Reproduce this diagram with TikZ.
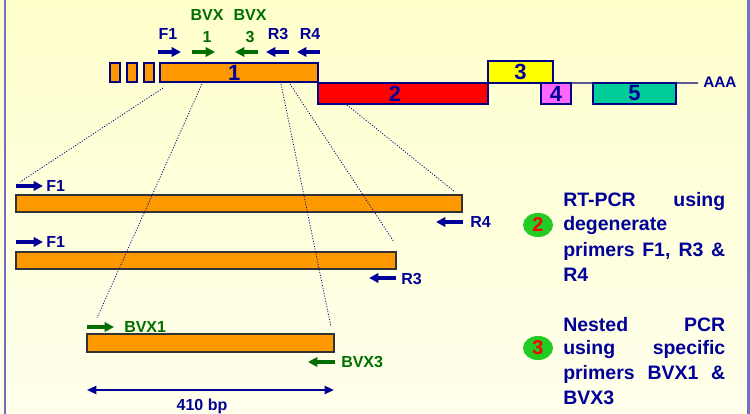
\documentclass[tikz,border=0pt]{standalone}
\usepackage{fontspec}
\setmainfont{Liberation Sans}
\usetikzlibrary{arrows.meta,shapes.geometric}
\definecolor{navy}{HTML}{000099}
\definecolor{dkgreen}{HTML}{006E00}
\definecolor{orng}{HTML}{FF9900}
\definecolor{gred}{HTML}{FF0000}
\definecolor{gyel}{HTML}{FFFF00}
\definecolor{gmag}{HTML}{FF66FF}
\definecolor{gteal}{HTML}{00CC99}
\definecolor{bord}{HTML}{000080}
\definecolor{barbord}{HTML}{333333}
\definecolor{frame}{HTML}{7070C0}
\definecolor{bgtop}{HTML}{FFFFCC}
\definecolor{bgbot}{HTML}{FFFFEC}
\definecolor{circgreen}{HTML}{22CC22}
\begin{document}
\begin{tikzpicture}[x=0.75pt,y=-0.75pt,
  gbox/.style={draw=bord, line width=0.8pt, inner sep=0pt, outer sep=0pt,
    font=\fontsize{16.5}{18}\selectfont\bfseries, text=navy},
  bar/.style={draw=barbord, line width=0.8pt, fill=orng, inner sep=0pt, outer sep=0pt},
  lbl/.style={font=\fontsize{12}{16.5}\selectfont\bfseries, text=navy, inner sep=0pt, align=center},
  glbl/.style={lbl, text=dkgreen},
  primer/.style={line width=2.3pt, -{Triangle[length=7pt,width=7pt]}},
  bprimer/.style={primer, draw=navy},
  gprimer/.style={primer, draw=dkgreen},
  dotl/.style={draw=navy, line width=0.6pt, dash pattern=on 0.8pt off 1.2pt},
  rtext/.style={font=\fontsize{14.6}{16}\selectfont\bfseries, text=navy, inner sep=0pt, anchor=west},
  circ/.style={ellipse, fill=circgreen, minimum width=22.5pt, minimum height=18pt, inner sep=0pt,
    font=\fontsize{15}{16}\selectfont\bfseries, text=gred}
]
% background
\shade[top color=bgtop, bottom color=bgbot] (0,0) rectangle (750,414);
\useasboundingbox (0,0) rectangle (750,414);
\draw[frame, line width=1.2pt] (5,0) -- (5,414);
\draw[frame, line width=1.8pt] (748.5,0) -- (748.5,414);

% baseline
\coordinate (bl1) at (318,83);
\coordinate (bl2) at (698,83);
\draw[draw=frame!80!black, line width=0.8pt] (bl1) -- (bl2);
\node[lbl, anchor=west, font=\fontsize{11.5}{12}\selectfont\bfseries] (aaa) at (703,82) {AAA};

% gene boxes
\node[gbox, fill=orng, minimum width=7.5pt, minimum height=14.25pt] (s1) at (115,72.5) {};
\node[gbox, fill=orng, minimum width=7.5pt, minimum height=14.25pt] (s2) at (132,72.5) {};
\node[gbox, fill=orng, minimum width=7.5pt, minimum height=14.25pt] (s3) at (149,72.5) {};
\node[gbox, fill=orng, minimum width=118.5pt, minimum height=14.25pt] (b1) at (239,72.5) {\hspace*{-7pt}1};
\node[gbox, fill=gred, minimum width=127.5pt, minimum height=15.75pt] (b2) at (403,93.5) {\hspace*{-12pt}2};
\node[gbox, fill=gyel, minimum width=48.75pt, minimum height=16.5pt] (b3) at (520.5,72) {3};
\node[gbox, fill=gmag, minimum width=22.5pt, minimum height=15.75pt] (b4) at (556,93.5) {4};
\node[gbox, fill=gteal, minimum width=62.25pt, minimum height=15.75pt] (b5) at (634.5,93.5) {5};

% top primers
\coordinate (tf1a) at (158,52); \coordinate (tf1b) at (181,52);
\coordinate (tb1a) at (192,52); \coordinate (tb1b) at (215,52);
\coordinate (tb3a) at (258,52); \coordinate (tb3b) at (235,52);
\coordinate (tr3a) at (289,52); \coordinate (tr3b) at (266,52);
\coordinate (tr4a) at (320,52); \coordinate (tr4b) at (297,52);
\draw[bprimer] (tf1a) -- (tf1b);
\draw[gprimer] (tb1a) -- (tb1b);
\draw[gprimer] (tb3a) -- (tb3b);
\draw[bprimer] (tr3a) -- (tr3b);
\draw[bprimer] (tr4a) -- (tr4b);
\node[lbl] (ltf1) at (168,34) {F1};
\node[glbl] (ltb1) at (207,26) {BVX\\1};
\node[glbl] (ltb3) at (250,26) {BVX\\3};
\node[lbl] (ltr3) at (278,34) {R3};
\node[lbl] (ltr4) at (310,34) {R4};

% product bars
\node[bar, minimum width=334.5pt, minimum height=12.75pt] (pa) at (239,203.5) {};
\node[bar, minimum width=285pt, minimum height=12.75pt] (pb) at (206,260.5) {};
\node[bar, minimum width=185.25pt, minimum height=13.5pt] (pc) at (210.5,343) {};

% lower primers
\coordinate (af1a) at (16,186); \coordinate (af1b) at (43,186);
\coordinate (ar4a) at (463,222); \coordinate (ar4b) at (436,222);
\coordinate (bf1a) at (16,242); \coordinate (bf1b) at (43,242);
\coordinate (br3a) at (396,278); \coordinate (br3b) at (369,278);
\coordinate (cb1a) at (87,327); \coordinate (cb1b) at (114,327);
\coordinate (cb3a) at (335,362); \coordinate (cb3b) at (308,362);
\draw[bprimer] (af1a) -- (af1b);
\draw[bprimer] (ar4a) -- (ar4b);
\draw[bprimer] (bf1a) -- (bf1b);
\draw[bprimer] (br3a) -- (br3b);
\draw[gprimer] (cb1a) -- (cb1b);
\draw[gprimer] (cb3a) -- (cb3b);
\node[lbl, anchor=west] (laf1) at (46,186) {F1};
\node[lbl, anchor=west] (lar4) at (470,222) {R4};
\node[lbl, anchor=west] (lbf1) at (46,242) {F1};
\node[lbl, anchor=west] (lbr3) at (401,279) {R3};
\node[glbl, anchor=west] (lcb1) at (124,327) {BVX1};
\node[glbl, anchor=west] (lcb3) at (341,362) {BVX3};

% dimension
\coordinate (d1) at (87,390); \coordinate (d2) at (334,390);
\draw[navy, line width=1.5pt, {Triangle[length=7pt,width=6pt]}-{Triangle[length=7pt,width=6pt]}] (d1) -- (d2);
\node[lbl, font=\fontsize{12}{14}\selectfont\bfseries] (dl) at (202,406) {410 bp};

% dotted zoom lines
\coordinate (z1a) at (163,88); \coordinate (z1b) at (20,182);
\coordinate (z2a) at (202,84); \coordinate (z2b) at (97,318);
\coordinate (z3a) at (281,84); \coordinate (z3b) at (331,327);
\coordinate (z4a) at (290,84); \coordinate (z4b) at (394,242);
\coordinate (z5a) at (347,105); \coordinate (z5b) at (455,192);
\draw[dotl] (z1a) -- (z1b);
\draw[dotl] (z2a) -- (z2b);
\draw[dotl] (z3a) -- (z3b);
\draw[dotl] (z4a) -- (z4b);
\draw[dotl] (z5a) -- (z5b);

% right-hand notes
\node[circ] (c2) at (538,225) {2};
\node[circ] (c3) at (538,348) {3};
\node[rtext] (t1) at (563,202) {\makebox[121.5pt][s]{RT-PCR using}};
\node[rtext] (t2) at (563,226) {degenerate};
\node[rtext] (t3) at (563,251) {\makebox[121.5pt][s]{primers F1, R3 \&}};
\node[rtext] (t4) at (563,275) {R4};
\node[rtext] (t5) at (563,325) {\makebox[121.5pt][s]{Nested PCR}};
\node[rtext] (t6) at (563,350) {\makebox[121.5pt][s]{using specific}};
\node[rtext] (t7) at (563,374) {\makebox[121.5pt][s]{primers BVX1 \&}};
\node[rtext] (t8) at (563,398) {BVX3};
\end{tikzpicture}
\end{document}
